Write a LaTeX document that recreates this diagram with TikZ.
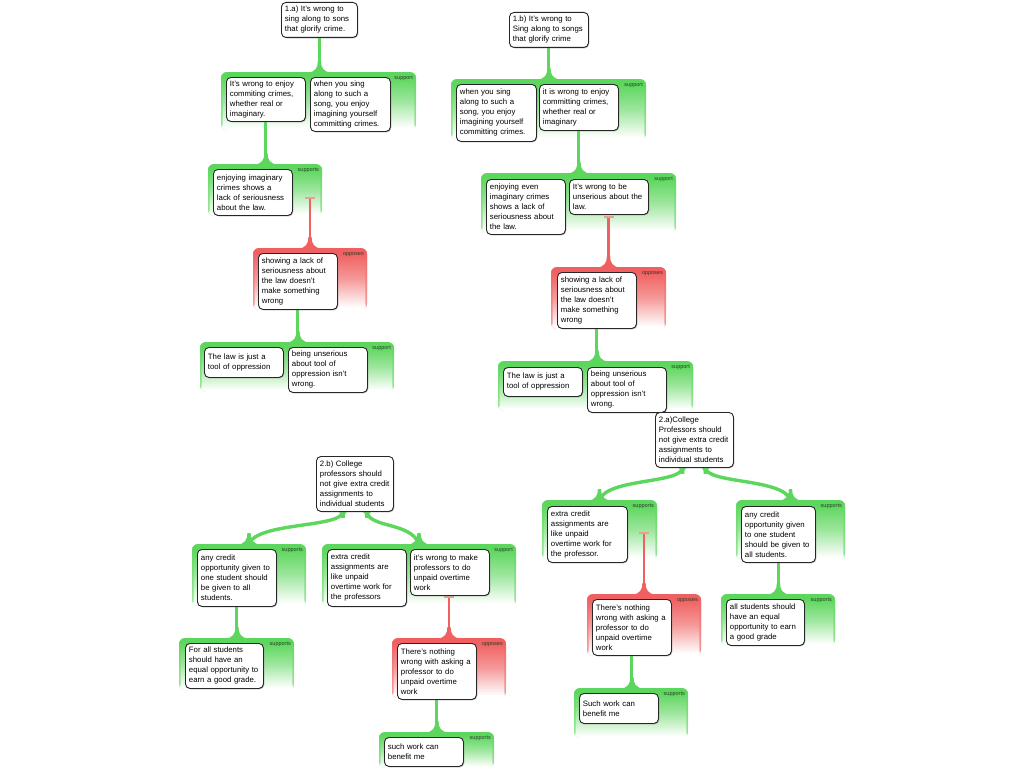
\documentclass[tikz,border=0pt]{standalone}
\usepackage{fontspec}
\setmainfont{Liberation Sans}
\usetikzlibrary{calc,shadows}
\definecolor{gr}{RGB}{92,214,92}
\definecolor{rd}{RGB}{240,96,96}
\definecolor{tbarc}{RGB}{232,160,150}
\definecolor{labc}{RGB}{40,60,40}
\pgfdeclareverticalshading{gpanel}{100bp}{color(0bp)=(white); color(27bp)=(white); color(50bp)=(gr!60); color(71bp)=(gr); color(100bp)=(gr)}
\pgfdeclareverticalshading{rpanel}{100bp}{color(0bp)=(white); color(27bp)=(white); color(50bp)=(rd!64); color(71bp)=(rd); color(100bp)=(rd)}
\pgfdeclarelayer{back}
\pgfdeclarelayer{bg}
\pgfsetlayers{back,bg,main}
\newcommand\boxfont{\fontsize{7.8}{10}\selectfont}
\newcommand\flaredn[2]{\fill[#1] let \p1=(#2) in (\x1-1.6pt,\y1+11pt) .. controls (\x1-1.6pt,\y1+4pt) and (\x1-4pt,\y1+0.5pt) .. (\x1-12pt,\y1-1pt) -- (\x1+12pt,\y1-1pt) .. controls (\x1+4pt,\y1+0.5pt) and (\x1+1.6pt,\y1+4pt) .. (\x1+1.6pt,\y1+11pt) -- cycle;}
\newcommand\flareup[2]{\fill[#1] let \p1=(#2) in (\x1-1.8pt,\y1-6pt) .. controls (\x1-1.8pt,\y1-2pt) and (\x1-2.5pt,\y1) .. (\x1-5.5pt,\y1+1pt) -- (\x1+5.5pt,\y1+1pt) .. controls (\x1+2.5pt,\y1) and (\x1+1.8pt,\y1-2pt) .. (\x1+1.8pt,\y1-6pt) -- cycle;}
\newcommand\glink[2]{\draw[gline] (#1.south) -- (#1.south |- #2.north); \flaredn{gr}{#1.south |- #2.north}}
\newcommand\rlink[2]{\draw[rline] (#1.north) -- (#1.north |- #2); \flaredn{rd}{#1.north}\draw[tbar] (#1.north |- #2) ++(-5,0) -- ++(10,0);}
\tikzset{
  box/.style={draw=black!85, line width=0.9pt, rounded corners=4.5pt, fill=white, anchor=north west,
    inner xsep=3.5pt, inner ysep=3pt, align=left, font=\boxfont,
    drop shadow={shadow xshift=0.8pt, shadow yshift=-0.9pt, fill=black!45, opacity=0.6}},
  panel/.style={anchor=north west, inner sep=0pt, outer sep=0pt, rounded corners=6pt, shade},
  gpan/.style={panel, shading=gpanel, path picture={
    \shade[top color=gr, bottom color=gr!60] (path picture bounding box.north west) rectangle ([xshift=1.6pt]path picture bounding box.south west);
    \shade[top color=gr, bottom color=gr!60] (path picture bounding box.north east) rectangle ([xshift=-1.6pt]path picture bounding box.south east);}},
  rpan/.style={panel, shading=rpanel, path picture={
    \shade[top color=rd, bottom color=rd!60] (path picture bounding box.north west) rectangle ([xshift=1.6pt]path picture bounding box.south west);
    \shade[top color=rd, bottom color=rd!60] (path picture bounding box.north east) rectangle ([xshift=-1.6pt]path picture bounding box.south east);}},
  lab/.style={anchor=north east, font=\fontsize{5.5}{6}\selectfont, text=labc, inner sep=0pt},
  gline/.style={draw=gr, line width=3pt},
  rline/.style={draw=rd, line width=2.6pt},
  tbar/.style={draw=tbarc, line width=2pt},
}
\begin{document}
\begin{tikzpicture}[x=1pt,y=-1pt]
\begin{pgfonlayer}{back}
\fill[white] (0,0) rectangle (1024,768);
\end{pgfonlayer}
\useasboundingbox (0,0) rectangle (1024,768);
% ---------- panels ----------
\begin{pgfonlayer}{bg}
\node[gpan, minimum width=195pt, minimum height=58pt] (P1a1) at (221,72) {};
\node[gpan, minimum width=114pt, minimum height=52pt] (P1a2) at (208,164) {};
\node[rpan, minimum width=114pt, minimum height=62pt] (P1a3) at (253,248) {};
\node[gpan, minimum width=194pt, minimum height=50pt] (P1a4) at (200,342) {};
\node[gpan, minimum width=195pt, minimum height=61pt] (P1b1) at (451,79) {};
\node[gpan, minimum width=195pt, minimum height=60pt] (P1b2) at (481,173) {};
\node[rpan, minimum width=115pt, minimum height=62pt] (P1b3) at (551,267) {};
\node[gpan, minimum width=195pt, minimum height=50pt] (P1b4) at (498,361) {};
\node[gpan, minimum width=115pt, minimum height=60pt] (P2a1) at (542,500) {};
\node[rpan, minimum width=114pt, minimum height=62pt] (P2a2) at (587,594) {};
\node[gpan, minimum width=114pt, minimum height=50pt] (P2a3) at (574,688) {};
\node[gpan, minimum width=109pt, minimum height=60pt] (P2a4) at (736,500) {};
\node[gpan, minimum width=114pt, minimum height=52pt] (P2a5) at (721,594) {};
\node[gpan, minimum width=114pt, minimum height=62pt] (P2b1) at (192,544) {};
\node[gpan, minimum width=194pt, minimum height=62pt] (P2b2) at (322,544) {};
\node[gpan, minimum width=115pt, minimum height=52pt] (P2b3) at (179,638) {};
\node[rpan, minimum width=114pt, minimum height=60pt] (P2b4) at (392,638) {};
\node[gpan, minimum width=115pt, minimum height=36pt] (P2b5) at (379,732) {};
\end{pgfonlayer}
% ---------- labels ----------
\node[lab] (L1a1) at ([xshift=-3pt,yshift=-4pt]P1a1.north east) {support};
\node[lab] (L1a2) at ([xshift=-3pt,yshift=-4pt]P1a2.north east) {supports};
\node[lab] (L1a3) at ([xshift=-3pt,yshift=-4pt]P1a3.north east) {opposes};
\node[lab] (L1a4) at ([xshift=-3pt,yshift=-4pt]P1a4.north east) {support};
\node[lab] (L1b1) at ([xshift=-3pt,yshift=-4pt]P1b1.north east) {support};
\node[lab] (L1b2) at ([xshift=-3pt,yshift=-4pt]P1b2.north east) {support};
\node[lab] (L1b3) at ([xshift=-3pt,yshift=-4pt]P1b3.north east) {opposes};
\node[lab] (L1b4) at ([xshift=-3pt,yshift=-4pt]P1b4.north east) {support};
\node[lab] (L2a1) at ([xshift=-3pt,yshift=-4pt]P2a1.north east) {supports};
\node[lab] (L2a2) at ([xshift=-3pt,yshift=-4pt]P2a2.north east) {opposes};
\node[lab] (L2a3) at ([xshift=-3pt,yshift=-4pt]P2a3.north east) {supports};
\node[lab] (L2a4) at ([xshift=-3pt,yshift=-4pt]P2a4.north east) {supports};
\node[lab] (L2a5) at ([xshift=-3pt,yshift=-4pt]P2a5.north east) {supports};
\node[lab] (L2b1) at ([xshift=-3pt,yshift=-4pt]P2b1.north east) {supports};
\node[lab] (L2b2) at ([xshift=-3pt,yshift=-4pt]P2b2.north east) {support};
\node[lab] (L2b3) at ([xshift=-3pt,yshift=-4pt]P2b3.north east) {supports};
\node[lab] (L2b4) at ([xshift=-3pt,yshift=-4pt]P2b4.north east) {opposes};
\node[lab] (L2b5) at ([xshift=-3pt,yshift=-4pt]P2b5.north east) {supports};
% ---------- boxes: 1.a ----------
\node[box, text width=69pt, minimum height=35pt] (r1a) at (281,2) {1.a) It's wrong to\\sing along to sons\\that glorify crime.};
\node[box, text width=72pt, minimum height=44pt] (b1a1) at (226,77) {It's wrong to enjoy\\commiting crimes,\\whether real or\\imaginary.};
\node[box, text width=73pt, minimum height=54pt] (b1a2) at (310,77) {when you sing\\along to such a\\song, you enjoy\\imagining yourself\\committing crimes.};
\node[box, text width=72pt, minimum height=46pt] (b1a3) at (213,169) {enjoying imaginary\\crimes shows a\\lack of seriousness\\about the law.};
\node[box, text width=72pt, minimum height=56pt] (b1a4) at (258,253) {showing a lack of\\seriousness about\\the law doesn't\\make something\\wrong};
\node[box, text width=72pt, minimum height=30pt] (b1a5) at (204,347) {The law is just a\\tool of oppression};
\node[box, text width=72pt, minimum height=45pt] (b1a6) at (288,347) {being unserious\\about tool of\\oppression isn't\\wrong.};
% ---------- boxes: 1.b ----------
\node[box, text width=72pt, minimum height=35pt] (r1b) at (509,12) {1.b) It's wrong to\\Sing along to songs\\that glorify crime};
\node[box, text width=73pt, minimum height=57pt] (b1b1) at (456,84) {when you sing\\along to such a\\song, you enjoy\\imagining yourself\\committing crimes.};
\node[box, text width=72pt, minimum height=46pt] (b1b2) at (539,84) {it is wrong to enjoy\\committing crimes,\\whether real or\\imaginary};
\node[box, text width=72pt, minimum height=55pt] (b1b3) at (486,179) {enjoying even\\imaginary crimes\\shows a lack of\\seriousness about\\the law.};
\node[box, text width=72pt, minimum height=35pt] (b1b4) at (569,179) {It's wrong to be\\unserious about the\\law.};
\node[box, text width=72pt, minimum height=56pt] (b1b5) at (557,272) {showing a lack of\\seriousness about\\the law doesn't\\make something\\wrong};
\node[box, text width=72pt, minimum height=29pt] (b1b6) at (503,367) {The law is just a\\tool of oppression};
\node[box, text width=72pt, minimum height=45pt] (b1b7) at (587,367) {being unserious\\about tool of\\oppression isn't\\wrong.};
% ---------- boxes: 2.a ----------
\node[box, text width=71pt, minimum height=55pt] (r2a) at (655,412) {2.a)College\\Professors should\\not give extra credit\\assignments to\\individual students};
\node[box, text width=73pt, minimum height=56pt] (b2a1) at (547,506) {extra credit\\assignments are\\like unpaid\\overtime work for\\the professor.};
\node[box, text width=72pt, minimum height=56pt] (b2a2) at (592,599) {There's nothing\\wrong with asking a\\professor to do\\unpaid overtime\\work};
\node[box, text width=72pt, minimum height=30pt] (b2a3) at (579,693) {Such work can\\benefit me};
\node[box, text width=67pt, minimum height=56pt] (b2a4) at (741,506) {any credit\\opportunity given\\to one student\\should be given to\\all students.};
\node[box, text width=71pt, minimum height=46pt] (b2a5) at (726,599) {all students should\\have an equal\\opportunity to earn\\a good grade};
% ---------- boxes: 2.b ----------
\node[box, text width=70pt, minimum height=55pt] (r2b) at (316,456) {2.b) College\\professors should\\not give extra credit\\assignments to\\individual students};
\node[box, text width=72pt, minimum height=57pt] (b2b1) at (197,549) {any credit\\opportunity given to\\one student should\\be given to all\\students.};
\node[box, text width=72pt, minimum height=57pt] (b2b2) at (327,549) {extra credit\\assignments are\\like unpaid\\overtime work for\\the professors};
\node[box, text width=72pt, minimum height=46pt] (b2b3) at (410,549) {it's wrong to make\\professors to do\\unpaid overtime\\work};
\node[box, text width=71pt, minimum height=45pt] (b2b4) at (185,643) {For all students\\should have an\\equal opportunity to\\earn a good grade.};
\node[box, text width=72pt, minimum height=56pt] (b2b5) at (397,643) {There's nothing\\wrong with asking a\\professor to do\\unpaid overtime\\work};
\node[box, text width=72pt, minimum height=29pt] (b2b6) at (384,737) {such work can\\benefit me};
% ---------- T-ends of the opposing links ----------
\coordinate (T1a) at (310,198);
\coordinate (T1b) at (609,217);
\coordinate (T2a) at (644,533);
\coordinate (T2b) at (449,597);
% ---------- connectors ----------
\begin{pgfonlayer}{bg}
\glink{r1a}{P1a1}
\glink{b1a1}{P1a2}
\glink{b1a4}{P1a4}
\glink{r1b}{P1b1}
\glink{b1b2}{P1b2}
\glink{b1b5}{P1b4}
\glink{b2a2}{P2a3}
\glink{b2a4}{P2a5}
\glink{b2b1}{P2b3}
\glink{b2b5}{P2b5}
\rlink{P1a3}{T1a}
\rlink{P1b3}{T1b}
\rlink{P2a2}{T2a}
\rlink{P2b4}{T2b}
\draw[gline, line width=3.4pt] ([xshift=-12pt]r2a.south) .. controls +(-2,16) and +(8,-22) .. (P2a1.north);
\draw[gline, line width=3.4pt] ([xshift=11pt]r2a.south) .. controls +(2,16) and +(-8,-22) .. (P2a4.north);
\draw[gline, line width=3.4pt] ([xshift=-12pt]r2b.south) .. controls +(-2,16) and +(8,-22) .. (P2b1.north);
\draw[gline, line width=3.4pt] ([xshift=12pt]r2b.south) .. controls +(2,16) and +(-8,-22) .. (P2b2.north);
\flareup{gr}{[xshift=-12pt]r2a.south}
\flareup{gr}{[xshift=11pt]r2a.south}
\flareup{gr}{[xshift=-12pt]r2b.south}
\flareup{gr}{[xshift=12pt]r2b.south}
\flaredn{gr}{P2a1.north}
\flaredn{gr}{P2a4.north}
\flaredn{gr}{P2b1.north}
\flaredn{gr}{P2b2.north}
\end{pgfonlayer}
\end{tikzpicture}
\end{document}
